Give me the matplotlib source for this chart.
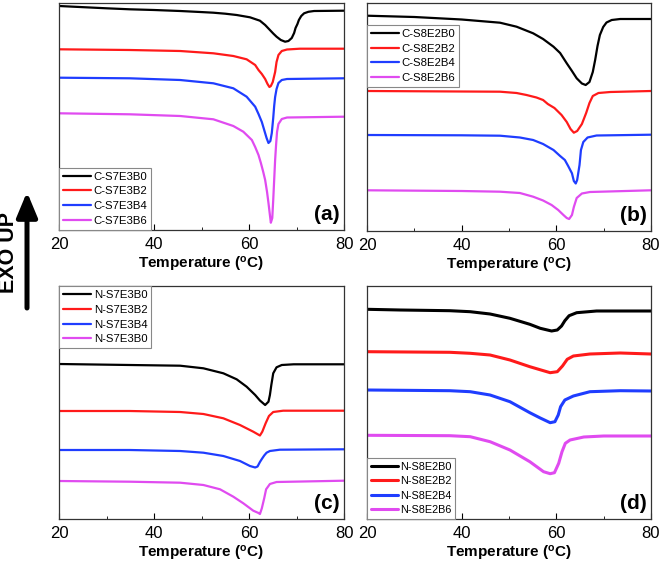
import matplotlib
matplotlib.use("Agg")
import matplotlib.pyplot as plt
from matplotlib.ticker import MultipleLocator

plt.rcParams['font.family'] = ['Liberation Sans', 'DejaVu Sans']
plt.rcParams['mathtext.fontset'] = 'custom'
plt.rcParams['mathtext.bf'] = 'Liberation Sans:bold'
plt.rcParams['mathtext.rm'] = 'Liberation Sans'

colors = ['#000000', '#ff1a1a', '#1f3dff', '#e04bf0']

# (a) C-S7E3Bx
labels_a = ["C-S7E3B0", "C-S7E3B2", "C-S7E3B4", "C-S7E3B6"]
T_a0 = [20, 30, 34.9, 40, 45.5, 49.7, 52.5, 55, 57.4, 60.2, 62.3, 63.4, 64.4, 65.1, 65.8, 66.7, 67.6, 68.3, 69,
        69.5, 69.8, 70.2, 70.5, 71, 71.6, 72.5, 73.7, 80]
y_a0 = [224, 221.7, 220.7, 220, 219, 218, 217.3, 216.3, 215, 212.7, 209.3, 205, 200, 196.5, 193.3, 190, 188.3, 189,
        192, 197, 202, 206, 210, 214, 216.7, 218.2, 219, 219.3]
T_a1 = [20, 34.9, 45.5, 52.5, 56.7, 59.5, 61.3, 62, 62.7, 63.4, 63.9, 64.3, 64.6, 65, 65.5, 65.8, 66.2, 66.9, 68,
        70.7, 80]
y_a1 = [180.7, 180, 179, 176.7, 174, 170.7, 165, 160, 156, 151, 146, 143, 144, 148, 158, 168, 175, 179, 180.5,
        181.3, 181.3]
T_a2 = [20, 34.9, 45.5, 52.5, 56.7, 59.5, 61.3, 62, 62.7, 63.2, 63.7, 64.1, 64.5, 64.8, 65.1, 65.3, 65.5, 65.8,
        66.2, 66.9, 68, 80]
y_a2 = [152.3, 151.7, 150, 146.7, 141.7, 133.3, 123.3, 116, 108, 100, 92, 87, 89, 97, 112, 124, 133, 141,
        147, 150, 151, 151.7]
T_a3 = [20, 34.9, 45.5, 52.5, 56.7, 58.8, 60.6, 61.3, 62, 62.5, 63, 63.4, 63.8, 64.1, 64.4, 64.6, 64.9, 65.1,
        65.3, 65.5, 65.7, 65.9, 66.2, 66.9, 68, 80]
y_a3 = [116.7, 115.7, 114, 110.7, 104, 98.3, 90, 83, 75, 67, 58, 50, 38, 27, 15, 7.3, 12, 30,
        50, 70, 85, 98, 106, 111, 112.5, 113.3]

# (b) C-S8E2Bx
labels_b = ["C-S8E2B0", "C-S8E2B2", "C-S8E2B4", "C-S8E2B6"]
T_b0 = [20, 30, 40, 48.1, 51.6, 55.1, 57.2, 59.4, 60.8, 62.2, 63.3, 64.3, 65.4, 66.2, 67, 67.7, 68.2, 68.7, 69.2,
        69.9, 70.6, 71.7, 73.5, 80]
y_b0 = [215.3, 214, 211.5, 208.3, 204.3, 197.7, 192, 184.3, 178, 167.7, 160, 152.7, 147.5, 146, 149, 159, 171, 185,
        196, 204, 208.5, 211, 212, 212]
T_b1 = [20, 40, 48.1, 51.6, 53.7, 55.8, 57.2, 58.2, 59.6, 61.1, 62.2, 63, 63.7, 64.4, 65.4, 66.3, 67, 67.7, 68.9,
        71.4, 80]
y_b1 = [140, 139.5, 139.3, 138, 136, 133.5, 131, 127, 123, 116, 109, 102, 98.3, 100, 107, 118, 128, 135, 138,
        139, 140]
T_b2 = [20, 40, 48.1, 52.3, 55.1, 57.2, 59.4, 60.8, 61.8, 62.5, 63.3, 63.7, 64.1, 64.4, 64.9, 65.2, 65.7, 66.6,
        68.5, 80]
y_b2 = [96, 95.7, 95.3, 93.5, 91, 87, 81, 75, 71, 65, 57.7, 50, 47.5, 51, 66, 81, 89, 93.5, 95.5, 96.3]
T_b3 = [20, 40, 48.1, 52.3, 55.1, 57.2, 59, 60.4, 61.5, 62.2, 62.7, 63.3, 63.7, 64.3, 65.4, 67.1, 80]
y_b3 = [40.7, 40, 39.3, 38, 34.3, 30.5, 26, 21, 16, 13, 12, 16, 24, 33, 37.5, 39, 40.7]

# (c) N-S7E3Bx
labels_c = ["N-S7E3B0", "N-S7E3B2", "N-S7E3B4", "N-S7E3B0"]
T_c0 = [20, 34.9, 45.5, 50.4, 54.6, 57.4, 59.5, 61.3, 62.3, 63.4, 64.1, 64.4, 64.7, 65.1, 65.8, 66.9, 69.4, 80]
y_c0 = [155, 154, 153.3, 150.7, 145.7, 139.7, 132.3, 124, 118.5, 114, 117.3, 124, 134, 145.7, 151.7, 154, 154.7,
        154.7]
T_c1 = [20, 34.9, 45.5, 50.4, 54.6, 58.1, 60.9, 62.3, 62.8, 63.5, 64.2, 65.1, 67.2, 80]
y_c1 = [108, 108, 107, 105, 100.7, 94, 87.3, 83.5, 87.3, 95.7, 103, 107, 108.3, 108.3]
T_c2 = [20, 34.9, 45.5, 50.4, 54.6, 58.1, 60.2, 61.3, 61.8, 62.3, 62.7, 63.2, 63.7, 64.4, 66.5, 80]
y_c2 = [69, 69, 68, 66.3, 63, 58, 53, 51.5, 52.5, 57, 60, 63.5, 66.3, 68, 69.3, 69.7]
T_c3 = [20, 34.9, 45.5, 50.4, 53.9, 56.7, 58.8, 60.9, 62, 62.3, 62.7, 63.2, 63.6, 64.4, 65.8, 80]
y_c3 = [38, 37.3, 36.3, 34, 29.7, 22.3, 15.7, 8.3, 6, 5, 10.7, 20.7, 29.7, 35, 37, 38.3]

# (d) N-S8E2Bx
labels_d = ["N-S8E2B0", "N-S8E2B2", "N-S8E2B4", "N-S8E2B6"]
T_d0 = [20, 27, 37.5, 41.8, 46, 50.2, 54.4, 56.6, 59, 60.2, 61.1, 61.8, 62.7, 64.3, 68.5, 80]
y_d0 = [209.7, 209, 208.3, 207.3, 205, 200.7, 194.7, 190.7, 188, 189, 193, 198.3, 203.3, 206.3, 208, 208]
T_d1 = [20, 37.5, 41.8, 46, 50.2, 54.4, 58.7, 60.2, 61.3, 62.3, 63.6, 67.1, 73.5, 80]
y_d1 = [167.3, 166.7, 165.7, 164, 159, 152.3, 146.3, 147.3, 153, 159.7, 163, 165, 166, 165]
T_d2 = [20, 37.5, 41.8, 46, 50.2, 54.4, 56.6, 58.7, 59.7, 60.4, 60.9, 61.8, 63.6, 67.1, 73.5, 80]
y_d2 = [129, 128.3, 127.3, 124, 117.3, 106.3, 101, 96.3, 97.3, 104, 112.3, 119, 123, 127.3, 128.3, 128]
T_d3 = [20, 37.5, 41.8, 46, 50.2, 54.4, 57.3, 58.7, 59.6, 60.5, 61.2, 61.9, 62.9, 65.8, 70, 80]
y_d3 = [83.7, 83.3, 82.3, 77.3, 69, 57.3, 47.3, 45.3, 46.3, 55.7, 67.3, 75.7, 79, 82, 83, 83]

W, H = 661, 572
fig = plt.figure(figsize=(W / 100, H / 100), dpi=100)


def make_ax(left, top, right, bottom):
    ax = fig.add_axes([left / W, 1 - bottom / H, (right - left) / W, (bottom - top) / H])
    ax.set_xlim(20, 80)
    ax.set_ylim(0, bottom - top)
    ax.xaxis.set_major_locator(MultipleLocator(20))
    ax.xaxis.set_minor_locator(MultipleLocator(10))
    ax.tick_params(axis='x', which='major', direction='in', length=4, labelsize=12, pad=5)
    ax.tick_params(axis='x', which='minor', direction='in', length=2.5)
    ax.tick_params(axis='y', left=False, labelleft=False)
    for s in ax.spines.values():
        s.set_linewidth(0.9)
        s.set_color('#333333')
    ax.set_xlabel(r'Temperature ($\mathbf{^o}$C)', fontsize=11, fontweight='bold', labelpad=2)
    return ax


panels = [
    (make_ax(59, 3, 344, 230), [(T_a0, y_a0), (T_a1, y_a1), (T_a2, y_a2), (T_a3, y_a3)], labels_a, '(a)'),
    (make_ax(367, 3, 651, 231), [(T_b0, y_b0), (T_b1, y_b1), (T_b2, y_b2), (T_b3, y_b3)], labels_b, '(b)'),
    (make_ax(59, 286, 344, 519), [(T_c0, y_c0), (T_c1, y_c1), (T_c2, y_c2), (T_c3, y_c3)], labels_c, '(c)'),
    (make_ax(367, 286, 651, 519), [(T_d0, y_d0), (T_d1, y_d1), (T_d2, y_d2), (T_d3, y_d3)], labels_d, '(d)'),
]

leg_pos = [
    dict(loc='lower left', bbox_to_anchor=(0, 0)),
    dict(loc='upper left', bbox_to_anchor=(0, 0.904)),
    dict(loc='upper left', bbox_to_anchor=(0, 1)),
    dict(loc='lower left', bbox_to_anchor=(0, 0)),
]

for i, (ax, curves, labs, tag) in enumerate(panels):
    lw = 2.2 if i == 3 else 1.6
    for j in range(4):
        ax.plot(curves[j][0], curves[j][1], color=colors[j], lw=lw,
                label=labs[j], solid_joinstyle='round', solid_capstyle='round')
    leg = ax.legend(fontsize=7.8 if i == 3 else 8.2, borderaxespad=0, fancybox=False,
                    edgecolor='#888888', framealpha=1, labelspacing=0.42,
                    handlelength=2.5, handletextpad=0.2, borderpad=0.35, **leg_pos[i])
    leg.get_frame().set_linewidth(0.8)
    ax.text(0.985, 0.025, tag, transform=ax.transAxes, ha='right', va='bottom',
            fontsize=15, fontweight='bold')

# EXO UP indicator
fig.text(9 / W, 1 - 252 / H, 'EXO UP', rotation=90, fontsize=15.5, fontweight='bold',
         ha='center', va='center')
plt.annotate('', xy=(27, H - 192), xytext=(27, H - 308), xycoords='figure pixels',
             textcoords='figure pixels',
             arrowprops=dict(arrowstyle='-|>,head_length=0.6,head_width=0.25',
                             lw=3.6, color='black', mutation_scale=25,
                             shrinkA=0, shrinkB=0))

plt.savefig("out.png", dpi=100)
